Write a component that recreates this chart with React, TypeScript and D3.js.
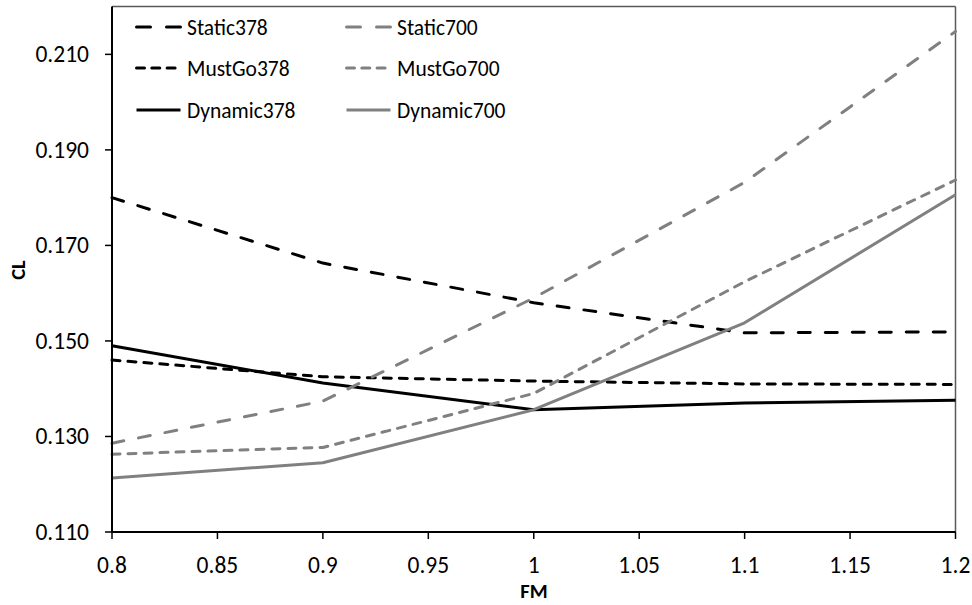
import React from "react";
import * as d3 from "d3";

const fmValues = [0.8, 0.9, 1.0, 1.1, 1.2];
const static378 = [0.18, 0.1663, 0.158, 0.1517, 0.1519];
const mustGo378 = [0.146, 0.1425, 0.1416, 0.141, 0.1409];
const dynamic378 = [0.149, 0.1412, 0.1356, 0.137, 0.1376];
const static700 = [0.1286, 0.1374, 0.159, 0.1832, 0.2148];
const mustGo700 = [0.1263, 0.1277, 0.139, 0.1624, 0.1837];
const dynamic700 = [0.1213, 0.1245, 0.1356, 0.1538, 0.1806];

const xTicks = [0.8, 0.85, 0.9, 0.95, 1.0, 1.05, 1.1, 1.15, 1.2];
const xTickLabels = ["0.8", "0.85", "0.9", "0.95", "1", "1.05", "1.1", "1.15", "1.2"];
const yTicks = [0.11, 0.13, 0.15, 0.17, 0.19, 0.21];
const yTickLabels = ["0.110", "0.130", "0.150", "0.170", "0.190", "0.210"];

const seriesNames = ["Static378", "MustGo378", "Dynamic378", "Static700", "MustGo700", "Dynamic700"];
const seriesValues = [static378, mustGo378, dynamic378, static700, mustGo700, dynamic700];

const BLACK = "#000000";
const GRAY = "#808080";
const styles: Record<string, { color: string; dash: string | null }> = {
  Static378: { color: BLACK, dash: "12,15" },
  MustGo378: { color: BLACK, dash: "8,8" },
  Dynamic378: { color: BLACK, dash: null },
  Static700: { color: GRAY, dash: "12,15" },
  MustGo700: { color: GRAY, dash: "8,8" },
  Dynamic700: { color: GRAY, dash: null },
};

const FONT = "Carlito, Lato, 'Open Sans', sans-serif";
const FS = 21.5;
const TFS = 23.5;

export default function App() {
  const W = 972;
  const H = 605;
  const left = 112;
  const right = 955.5;
  const top = 6.6;
  const bottom = 532;

  const x = d3.scaleLinear().domain([0.8, 1.2]).range([left, right]);
  const y = d3.scaleLinear().domain([0.11, 0.22]).range([bottom, top]);

  const line = d3
    .line<number>()
    .x((_, i) => x(fmValues[i]))
    .y((d) => y(d));

  const legendCols = [135, 345];
  const legendRows = [27, 68, 110];

  return (
    <svg
      width={W}
      height={H}
      style={{ position: "absolute", left: 0, top: 0, background: "#fff" }}
      fontFamily={FONT}
    >
      <rect x={0} y={0} width={W} height={H} fill="#fff" />
      <line x1={left} x2={right} y1={top} y2={top} stroke="#595959" strokeWidth={1.5} />
      <line x1={right} x2={right} y1={top} y2={bottom} stroke="#595959" strokeWidth={1.5} />

      {seriesNames.map((name, k) => (
        <path
          key={name}
          d={line(seriesValues[k]) || ""}
          fill="none"
          stroke={styles[name].color}
          strokeWidth={3}
          strokeDasharray={styles[name].dash || undefined}
          strokeLinecap={styles[name].dash ? "round" : "butt"}
          strokeLinejoin="round"
        />
      ))}

      <line x1={left} x2={left} y1={top} y2={bottom + 1} stroke="#000" strokeWidth={2} />
      <line x1={left - 1} x2={right} y1={bottom} y2={bottom} stroke="#000" strokeWidth={2} />

      {yTicks.map((t, i) => (
        <g key={"y" + i}>
          <line x1={left - 7} x2={left} y1={y(t)} y2={y(t)} stroke="#000" strokeWidth={1.5} />
          <text x={89} y={y(t) + 8} textAnchor="end" fontSize={TFS} fill="#000">
            {yTickLabels[i]}
          </text>
        </g>
      ))}
      {xTicks.map((t, i) => (
        <g key={"x" + i}>
          <line x1={x(t)} x2={x(t)} y1={bottom} y2={bottom + 7} stroke="#000" strokeWidth={1.5} />
          <text x={x(t)} y={573} textAnchor="middle" fontSize={TFS} fill="#000">
            {xTickLabels[i]}
          </text>
        </g>
      ))}

      <text x={534} y={598} textAnchor="middle" fontSize={FS - 1} fontWeight="bold" fill="#000">
        FM
      </text>
      <text
        transform={`translate(25,270) rotate(-90)`}
        textAnchor="middle"
        fontSize={FS - 1}
        fontWeight="bold"
        fill="#000"
      >
        CL
      </text>

      {seriesNames.map((name, k) => {
        const col = Math.floor(k / 3);
        const row = k % 3;
        const lx = legendCols[col];
        const ly = legendRows[row];
        const st = styles[name];
        return (
          <g key={"lg" + name}>
            <line
              x1={lx + 1.5}
              x2={lx + 47 - 1.5}
              y1={ly}
              y2={ly}
              stroke={st.color}
              strokeWidth={3}
              strokeDasharray={st.dash ? (name.startsWith("Static") ? "14,16" : "8,7.3") : undefined}
              strokeLinecap={st.dash ? "round" : "butt"}
            />
            <text x={lx + 52} y={ly + 7.5} fontSize={FS} fill="#000">
              {name}
            </text>
          </g>
        );
      })}
    </svg>
  );
}
